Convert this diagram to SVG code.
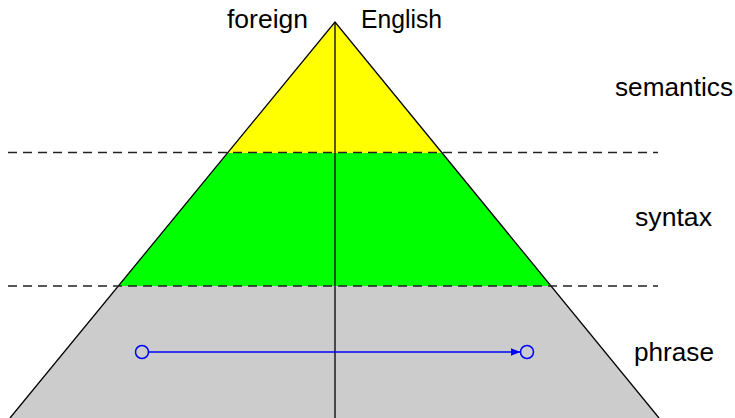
<svg xmlns="http://www.w3.org/2000/svg" width="735" height="418" viewBox="0 0 735 418">
<style>
text{font-family:"Liberation Sans",Arial,sans-serif;font-size:26px;fill:#000}
.dash{stroke:#222;stroke-width:1.6;stroke-dasharray:9,6;fill:none}
.edge{stroke:#000;stroke-width:1.3;fill:none}
</style>
<defs>
<marker id="arr" viewBox="0 0 10 10" refX="10" refY="5" markerWidth="10" markerHeight="10" markerUnits="userSpaceOnUse" orient="auto">
<path d="M0,1 L10,5 L0,9 z" fill="#0000ff"/>
</marker>
</defs>
<g id="pyramid">
<polygon points="335,22 442,153 228,153" fill="#ffff00"/>
<polygon points="228,153 442,153 551,286 118,286" fill="#00ff00"/>
<polygon points="118,286 551,286 659,418 10,418" fill="#cccccc"/>
<polyline class="edge" points="10,418 335,22 659,418"/>
<line class="edge" x1="335" y1="22" x2="335" y2="418"/>
</g>
<g id="levels">
<line class="dash" x1="8" y1="152.5" x2="658" y2="152.5"/>
<line class="dash" x1="8" y1="286" x2="658" y2="286"/>
</g>
<g id="labels">
<text x="227" y="28" textLength="81" lengthAdjust="spacingAndGlyphs">foreign</text>
<text x="361" y="28" textLength="81" lengthAdjust="spacingAndGlyphs">English</text>
<text x="615" y="96" textLength="118" lengthAdjust="spacingAndGlyphs">semantics</text>
<text x="635" y="226" textLength="77" lengthAdjust="spacingAndGlyphs">syntax</text>
<text x="634" y="361" textLength="80" lengthAdjust="spacingAndGlyphs">phrase</text>
</g>
<g id="connectors">
<circle id="src" cx="142" cy="352" r="6.5" fill="none" stroke="#0000ff" stroke-width="1.5"/>
<circle id="dst" cx="527" cy="352" r="6.5" fill="none" stroke="#0000ff" stroke-width="1.5"/>
<line x1="148.5" y1="352" x2="520.5" y2="352" stroke="#0000ff" stroke-width="1.5" marker-end="url(#arr)"/>
</g>
</svg>
